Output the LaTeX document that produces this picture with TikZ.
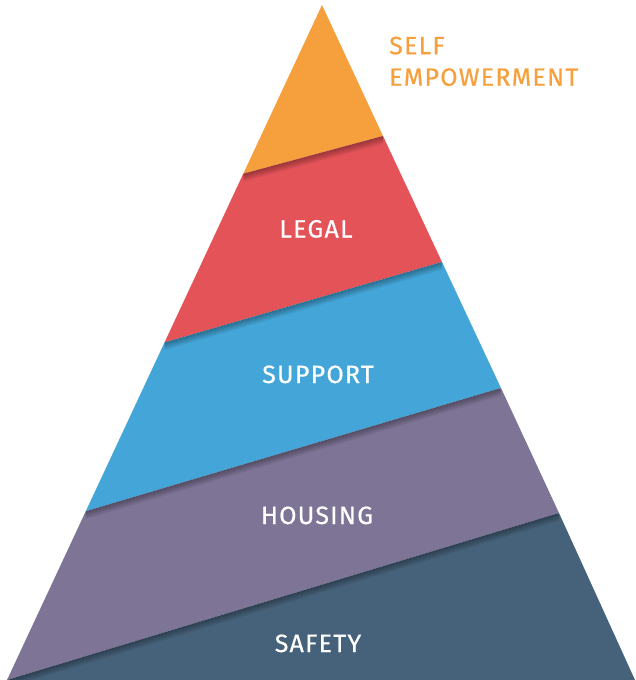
\documentclass[tikz,border=0pt]{standalone}
\usepackage{fontspec}
\setmainfont{Fira Sans}[FakeBold=0.5, LetterSpace=5]
\usepackage{tikz}
\usetikzlibrary{calc,positioning}

\definecolor{selfcol}{RGB}{245,160,60}
\definecolor{legalcol}{RGB}{227,83,88}
\definecolor{supportcol}{RGB}{68,166,216}
\definecolor{housingcol}{RGB}{126,116,150}
\definecolor{safetycol}{RGB}{70,98,122}

\tikzset{
    lvl/.style={text=white, inner sep=0pt, anchor=base, font=\fontsize{25}{30}\selectfont},
    shadowstrip/.style={fill=black, opacity=0.045},
}

\begin{document}
\begin{tikzpicture}[x=1pt, y=-1pt]
    \useasboundingbox (0,0) rectangle (635,680);

    % outline of the pyramid
    \coordinate (apex) at (322,5);
    \coordinate (bl) at (7,680);
    \coordinate (br) at (635,680);

    % the slanted cuts between the layers
    \coordinate (s1l) at ($(apex)!0.25!(bl)$);
    \coordinate (s1r) at (383,136);
    \coordinate (s2l) at ($(apex)!0.5!(bl)$);
    \coordinate (s2r) at (442,262);
    \coordinate (s3l) at ($(apex)!0.75!(bl)$);
    \coordinate (s3r) at (501,388);
    \coordinate (s4l) at (bl);
    \coordinate (s4r) at (559,513);

    \fill[selfcol] (apex) -- (s1r) -- (s1l) -- cycle;
    \fill[legalcol] (s1l) -- (s1r) -- (s2r) -- (s2l) -- cycle;
    \fill[supportcol] (s2l) -- (s2r) -- (s3r) -- (s3l) -- cycle;
    \fill[housingcol] (s3l) -- (s3r) -- (s4r) -- (s4l) -- cycle;
    \fill[safetycol] (s4l) -- (s4r) -- (br) -- cycle;

    % soft shadow under every cut
    \begin{scope}
        \clip (apex) -- (br) -- (bl) -- cycle;
        \foreach \a/\b in {s1l/s1r, s2l/s2r, s3l/s3r, s4l/s4r} {
            \foreach \i in {1,...,8} {
                \fill[shadowstrip] (\a) -- (\b) -- ($(\b)+(0,\i)$) -- ($(\a)+(0,\i)$) -- cycle;
            }
        }
    \end{scope}

    \node[lvl] (legal) at (316,237.5) {LEGAL};
    \node[lvl] (support) at (318,383) {SUPPORT};
    \node[lvl] (housing) at (317,524) {HOUSING};
    \node[lvl] (safety) at (318,652) {SAFETY};

    \node[anchor=north west, inner sep=0pt, align=left, text=selfcol,
          font=\fontsize{25}{31.5}\selectfont] (self) at (389,36.5) {SELF\\EMPOWERMENT};
\end{tikzpicture}
\end{document}
